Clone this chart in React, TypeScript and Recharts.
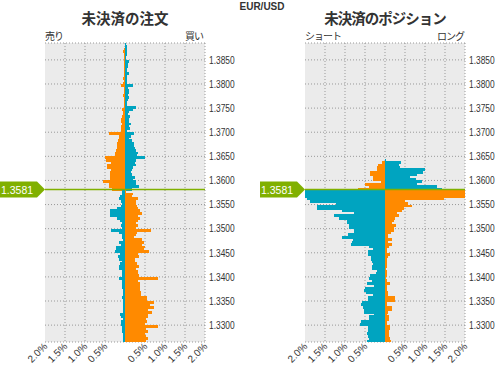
import React from 'react';
import { BarChart, Bar, XAxis, YAxis, CartesianGrid, ReferenceLine, Cell } from 'recharts';

// price buckets, 0.0005 wide, top bucket starts at 1.3880
const TOP_PRICE = 1.388;
const STEP = 0.0005;
const LOW_PRICE = 1.3265;
const HIGH_PRICE = 1.3885;
const CURRENT_PRICE = 1.3581;

const PRICE_TICKS = [1.33, 1.335, 1.34, 1.345, 1.35, 1.355, 1.36, 1.365, 1.37, 1.375, 1.38, 1.385];
const PCT_TICKS = [-2, -1.5, -1, -0.5, 0.5, 1, 1.5, 2];
const GRID_X = [-1.5, -1, -0.5, 0, 0.5, 1, 1.5, 2];

// 未決済の注文 (%), listed from the top bucket down
const ORDER_SELL = [
  0, 0, 0.03, 0.04, 0.03, 0.03, 0.03, 0.03, 0.02, 0.02,
  0.02, 0.02, 0.02, 0.03, 0.05, 0.03, 0.05, 0.1, 0.03, 0.03,
  0.03, 0.05, 0.03, 0.03, 0.02, 0.03, 0.03, 0.08, 0.06, 0.06,
  0.08, 0.1, 0.1, 0.08, 0.1, 0.1, 0.1, 0.39, 0.15, 0.15,
  0.18, 0.19, 0.2, 0.19, 0.22, 0.24, 0.25, 0.51, 0.48, 0.36,
  0.46, 0.46, 0.36, 0.38, 0.38, 0.37, 0.37, 0.54, 0.4, 0.4,
  0.33, 0.08, 0.07, 0.12, 0.15, 0.1, 0.08, 0.1, 0.2, 0.37,
  0.38, 0.38, 0.2, 0.12, 0.08, 0.1, 0.08, 0.35, 0.15, 0.08,
  0.08, 0.05, 0.15, 0.1, 0.22, 0.23, 0.25, 0.13, 0.18, 0.15,
  0.08, 0.12, 0.15, 0.15, 0.08, 0.08, 0.08, 0.15, 0.07, 0.08,
  0.08, 0.08, 0.05, 0.05, 0.05, 0.07, 0.05, 0.05, 0.05, 0.05,
  0.05, 0.05, 0.13, 0.1, 0.05, 0.1, 0.1, 0.08, 0.07, 0.07,
  0.05, 0.05, 0.05, 0.05,
];
const ORDER_BUY = [
  0.03, 0.06, 0.05, 0.06, 0.05, 0.03, 0.03, 0.1, 0.07, 0.08,
  0.04, 0.04, 0.1, 0.06, 0.05, 0.04, 0.05, 0.2, 0.08, 0.1,
  0.09, 0.08, 0.1, 0.08, 0.05, 0.06, 0.28, 0.19, 0.09, 0.08,
  0.13, 0.09, 0.11, 0.14, 0.09, 0.13, 0.05, 0.22, 0.15, 0.1,
  0.18, 0.22, 0.22, 0.24, 0.27, 0.33, 0.29, 0.5, 0.27, 0.24,
  0.28, 0.2, 0.18, 0.16, 0.18, 0.25, 0.21, 0.27, 0.28, 0.35,
  0.18, 0.02, 0.2, 0.18, 0.33, 0.27, 0.27, 0.3, 0.33, 0.37,
  0.42, 0.33, 0.37, 0.32, 0.28, 0.33, 0.27, 0.65, 0.3, 0.27,
  0.23, 0.42, 0.47, 0.42, 0.5, 0.47, 0.6, 0.32, 0.35, 0.25,
  0.25, 0.3, 0.35, 0.27, 0.33, 0.33, 0.35, 0.82, 0.33, 0.37,
  0.38, 0.38, 0.38, 0.4, 0.4, 0.55, 0.55, 0.72, 0.62, 0.72,
  0.58, 0.67, 0.58, 0.58, 0.53, 0.55, 0.5, 0.82, 0.52, 0.57,
  0.5, 0.53, 0.57, 0.52,
];

// 未決済のポジション (%)
const POS_SHORT = [
  0, 0, 0, 0, 0, 0, 0, 0, 0, 0,
  0, 0, 0, 0, 0, 0, 0, 0, 0, 0,
  0, 0, 0, 0, 0, 0, 0, 0, 0, 0,
  0, 0, 0, 0, 0, 0, 0, 0, 0, 0,
  0, 0, 0, 0, 0, 0, 0, 0, 0, 0.07,
  0.18, 0.2, 0.2, 0.37, 0.37, 0.3, 0.3, 0.1, 0.5, 0.4,
  0.68, 2.0, 2.0, 2.0, 1.95, 1.88, 1.22, 1.7, 1.7, 1.08,
  0.78, 1.28, 1.16, 0.95, 0.95, 0.9, 0.9, 0.78, 0.78, 0.92,
  1.08, 0.81, 0.82, 0.85, 0.4, 0.3, 0.42, 0.43, 0.35, 0.36,
  0.32, 0.3, 0.32, 0.33, 0.2, 0.22, 0.38, 0.4, 0.32, 0.44,
  0.28, 0.5, 0.52, 0.48, 0.3, 0.42, 0.42, 0.58, 0.6, 0.55,
  0.52, 0.52, 0.28, 0.4, 0.4, 0.6, 0.62, 0.43, 0.43, 0.43,
  0.45, 0.43, 0.4, 0.45,
];
const POS_LONG = [
  0, 0, 0, 0, 0, 0, 0, 0, 0, 0,
  0, 0, 0, 0, 0, 0, 0, 0, 0, 0,
  0, 0, 0, 0, 0, 0, 0, 0, 0, 0,
  0, 0, 0, 0, 0, 0, 0, 0, 0, 0,
  0, 0, 0, 0, 0, 0, 0, 0, 0.03, 0.4,
  0.36, 0.38, 1.0, 0.95, 0.8, 0.63, 0.78, 0.93, 0.8, 1.3,
  1.42, 2.0, 2.0, 2.0, 1.47, 0.5, 0.58, 0.67, 0.47, 0.42,
  0.31, 0.36, 0.25, 0.22, 0.17, 0.27, 0.22, 0.22, 0.15, 0.08,
  0.07, 0.17, 0.07, 0.17, 0.09, 0.05, 0.05, 0.12, 0.07, 0.06,
  0.05, 0.05, 0.04, 0.03, 0.04, 0.04, 0.06, 0.03, 0.04, 0.12,
  0.05, 0.05, 0.05, 0.08, 0.08, 0.25, 0.25, 0.05, 0.04, 0.17,
  0.17, 0.08, 0.06, 0.1, 0.1, 0.05, 0.05, 0.12, 0.12, 0.1,
  0.1, 0.1, 0.12, 0.15,
];

const ORANGE = '#ff8a00';
const TEAL = '#00a4c0';
const GREEN = '#80b000';
const TEXT = '#333';

const CHART_H = 365;
const PLOT_TOP = 43;
const X_AXIS_H = 23;
const PLOT_H = CHART_H - PLOT_TOP - X_AXIS_H;
const BAR_PX = PLOT_H / ORDER_SELL.length - 0.002;

const buildRows = (left: number[], right: number[]) =>
  left.map((l, i) => {
    const low = TOP_PRICE - i * STEP;
    return { mid: low + STEP / 2, left: -l, right: right[i] };
  });

// bars are only ~2.4px tall; overlap them a little so no seams show
const FlatBar = (props: any) => {
  const { x, y, width, height, fill } = props;
  if (!width || !height) return null;
  return (
    <rect
      x={Math.min(x, x + width)}
      y={y}
      width={Math.abs(width)}
      height={height + 0.5}
      fill={fill}
      shapeRendering="crispEdges"
    />
  );
};

const PctTick = (props: any) => {
  const { x, y, payload } = props;
  const tx = x + 3;
  const ty = y - 3;
  return (
    <text x={tx} y={ty} transform={`rotate(-45 ${tx} ${ty})`} textAnchor="end" fontSize={10} fill={TEXT}>
      {Math.abs(payload.value).toFixed(1)}%
    </text>
  );
};

// narrow price labels, squeezed horizontally like the original bitmap font
const PriceTick = (props: any) => {
  const { x, y, payload } = props;
  return (
    <text transform={`translate(${x} ${y}) scale(0.8 1)`} dy="0.36em" fontSize={10.5} fill={TEXT}>
      {payload.value.toFixed(4)}
    </text>
  );
};

const PriceTag = (props: any) => {
  const { viewBox } = props;
  if (!viewBox) return null;
  const x = viewBox.x;
  const y = viewBox.y;
  const pts = `${x - 47},${y - 8} ${x - 8},${y - 8} ${x},${y} ${x - 8},${y + 8} ${x - 47},${y + 8}`;
  return (
    <g>
      <polygon points={pts} fill={GREEN} />
      <text x={x - 44} y={y + 4} fill="#fff" fontSize={10.5}>
        {CURRENT_PRICE.toFixed(4)}
      </text>
    </g>
  );
};

function BookPanel({ left, right, width, axisWidth }: { left: number[]; right: number[]; width: number; axisWidth: number }) {
  const rows = buildRows(left, right);
  return (
    <BarChart
      width={width}
      height={CHART_H}
      data={rows}
      layout="vertical"
      stackOffset="sign"
      barCategoryGap={0}
      margin={{ top: PLOT_TOP, right: 0, bottom: 0, left: 45 }}
    >
      <CartesianGrid fill="#ebebeb" fillOpacity={1} stroke="#999" strokeDasharray="1 2" verticalValues={GRID_X} />
      <XAxis
        type="number"
        domain={[-2, 2]}
        ticks={PCT_TICKS}
        interval={0}
        allowDataOverflow
        height={X_AXIS_H}
        axisLine={false}
        tickLine={false}
        tick={<PctTick />}
      />
      <YAxis
        type="number"
        dataKey="mid"
        orientation="right"
        reversed
        domain={[LOW_PRICE, HIGH_PRICE]}
        allowDataOverflow
        ticks={PRICE_TICKS}
        interval={0}
        width={axisWidth}
        axisLine={false}
        tickLine={false}
        tickSize={2}
        tickMargin={2}
        tick={<PriceTick />}
      />
      <Bar dataKey="left" stackId="a" barSize={BAR_PX} shape={<FlatBar />} isAnimationActive={false}>
        {rows.map((r, i) => (
          <Cell key={i} fill={r.mid > CURRENT_PRICE ? ORANGE : TEAL} />
        ))}
      </Bar>
      <Bar dataKey="right" stackId="a" barSize={BAR_PX} shape={<FlatBar />} isAnimationActive={false}>
        {rows.map((r, i) => (
          <Cell key={i} fill={r.mid > CURRENT_PRICE ? TEAL : ORANGE} />
        ))}
      </Bar>
      <ReferenceLine y={CURRENT_PRICE} stroke={GREEN} strokeWidth={1.5} label={<PriceTag />} />
    </BarChart>
  );
}

export default function App() {
  const cjk = '"Noto Sans CJK JP", "Noto Sans", sans-serif';
  return (
    <div
      style={{
        position: 'absolute',
        left: 0,
        top: 0,
        width: 497,
        height: 365,
        background: '#fff',
        fontFamily: '"Liberation Sans", Arial, sans-serif',
      }}
    >
      <div style={{ position: 'absolute', left: 0, top: 0 }}>
        <BookPanel left={ORDER_SELL} right={ORDER_BUY} width={250} axisWidth={45} />
      </div>
      <div style={{ position: 'absolute', left: 260, top: 0 }}>
        <BookPanel left={POS_SHORT} right={POS_LONG} width={237} axisWidth={32} />
      </div>
      <svg width={497} height={365} style={{ position: 'absolute', left: 0, top: 0, pointerEvents: 'none' }}>
        <text x={262} y={10} textAnchor="middle" fontSize={10} fontWeight="bold" fill={TEXT}>
          EUR/USD
        </text>
        <text x={125} y={24} textAnchor="middle" fontSize={14.5} fontWeight="bold" fill={TEXT} fontFamily={cjk}>
          未決済の注文
        </text>
        <text x={385} y={24} textAnchor="middle" fontSize={14.5} fontWeight="bold" fill={TEXT} fontFamily={cjk} letterSpacing={-1}>
          未決済のポジション
        </text>
        <text x={45} y={40} fontSize={10} fill={TEXT} fontFamily={cjk} letterSpacing={-1}>
          売り
        </text>
        <text x={203} y={40} textAnchor="end" fontSize={10} fill={TEXT} fontFamily={cjk} letterSpacing={-1}>
          買い
        </text>
        <text x={305} y={40} fontSize={10} fill={TEXT} fontFamily={cjk} letterSpacing={-1}>
          ショート
        </text>
        <text x={464} y={40} textAnchor="end" fontSize={10} fill={TEXT} fontFamily={cjk} letterSpacing={-1}>
          ロング
        </text>
      </svg>
    </div>
  );
}
